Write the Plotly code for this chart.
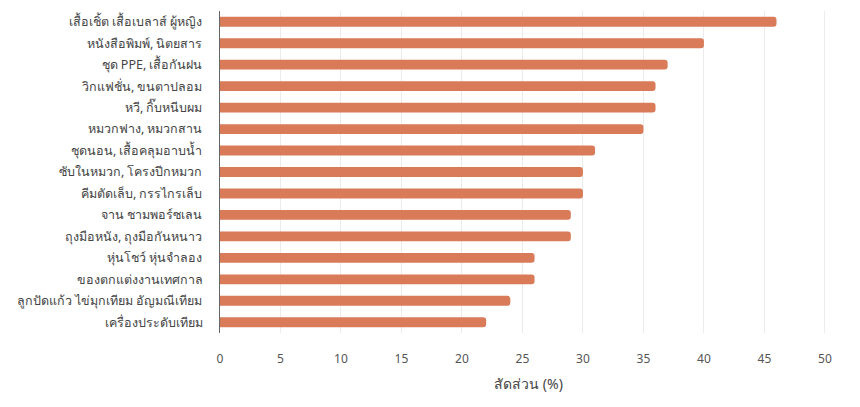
import plotly.graph_objects as go

categories = [
    "เสื้อเชิ้ต เสื้อเบลาส์ ผู้หญิง",
    "หนังสือพิมพ์, นิตยสาร",
    "ชุด PPE, เสื้อกันฝน",
    "วิกแฟชั่น, ขนตาปลอม",
    "หวี, กิ๊บหนีบผม",
    "หมวกฟาง, หมวกสาน",
    "ชุดนอน, เสื้อคลุมอาบน้ำ",
    "ซับในหมวก, โครงปีกหมวก",
    "คีมตัดเล็บ, กรรไกรเล็บ",
    "จาน ชามพอร์ซเลน",
    "ถุงมือหนัง, ถุงมือกันหนาว",
    "หุ่นโชว์ หุ่นจำลอง",
    "ของตกแต่งงานเทศกาล",
    "ลูกปัดแก้ว ไข่มุกเทียม อัญมณีเทียม",
    "เครื่องประดับเทียม",
]
values = [46, 40, 37, 36, 36, 35, 31, 30, 30, 29, 29, 26, 26, 24, 22]
x_ticks = [0, 5, 10, 15, 20, 25, 30, 35, 40, 45, 50]

fig = go.Figure(
    go.Bar(
        x=values,
        y=categories,
        orientation="h",
        marker=dict(color="#D97B59", line=dict(width=0), cornerradius=3),
        width=0.46,
    )
)

fig.update_layout(
    width=852,
    height=399,
    margin=dict(l=212, r=23, t=3, b=74),
    paper_bgcolor="white",
    plot_bgcolor="white",
    font=dict(family="Noto Sans, sans-serif", color="#444444", size=12),
    showlegend=False,
)

fig.update_xaxes(
    range=[0, 51],
    tickvals=x_ticks,
    showgrid=True,
    gridcolor="#EBEBEB",
    gridwidth=1,
    zeroline=False,
    showline=False,
    ticks="",
    automargin=False,
    ticklabelstandoff=17,
    tickfont=dict(size=12, color="#555555"),
    title=dict(text="สัดส่วน (%)", font=dict(size=14, color="#444444"), standoff=13),
)

fig.update_yaxes(
    autorange="reversed",
    showline=True,
    linecolor="#666666",
    linewidth=1,
    ticks="",
    automargin=False,
    ticklabelstandoff=14,
    tickfont=dict(size=12.5, color="#444444"),
    showgrid=False,
)

fig.write_html("out.html")
